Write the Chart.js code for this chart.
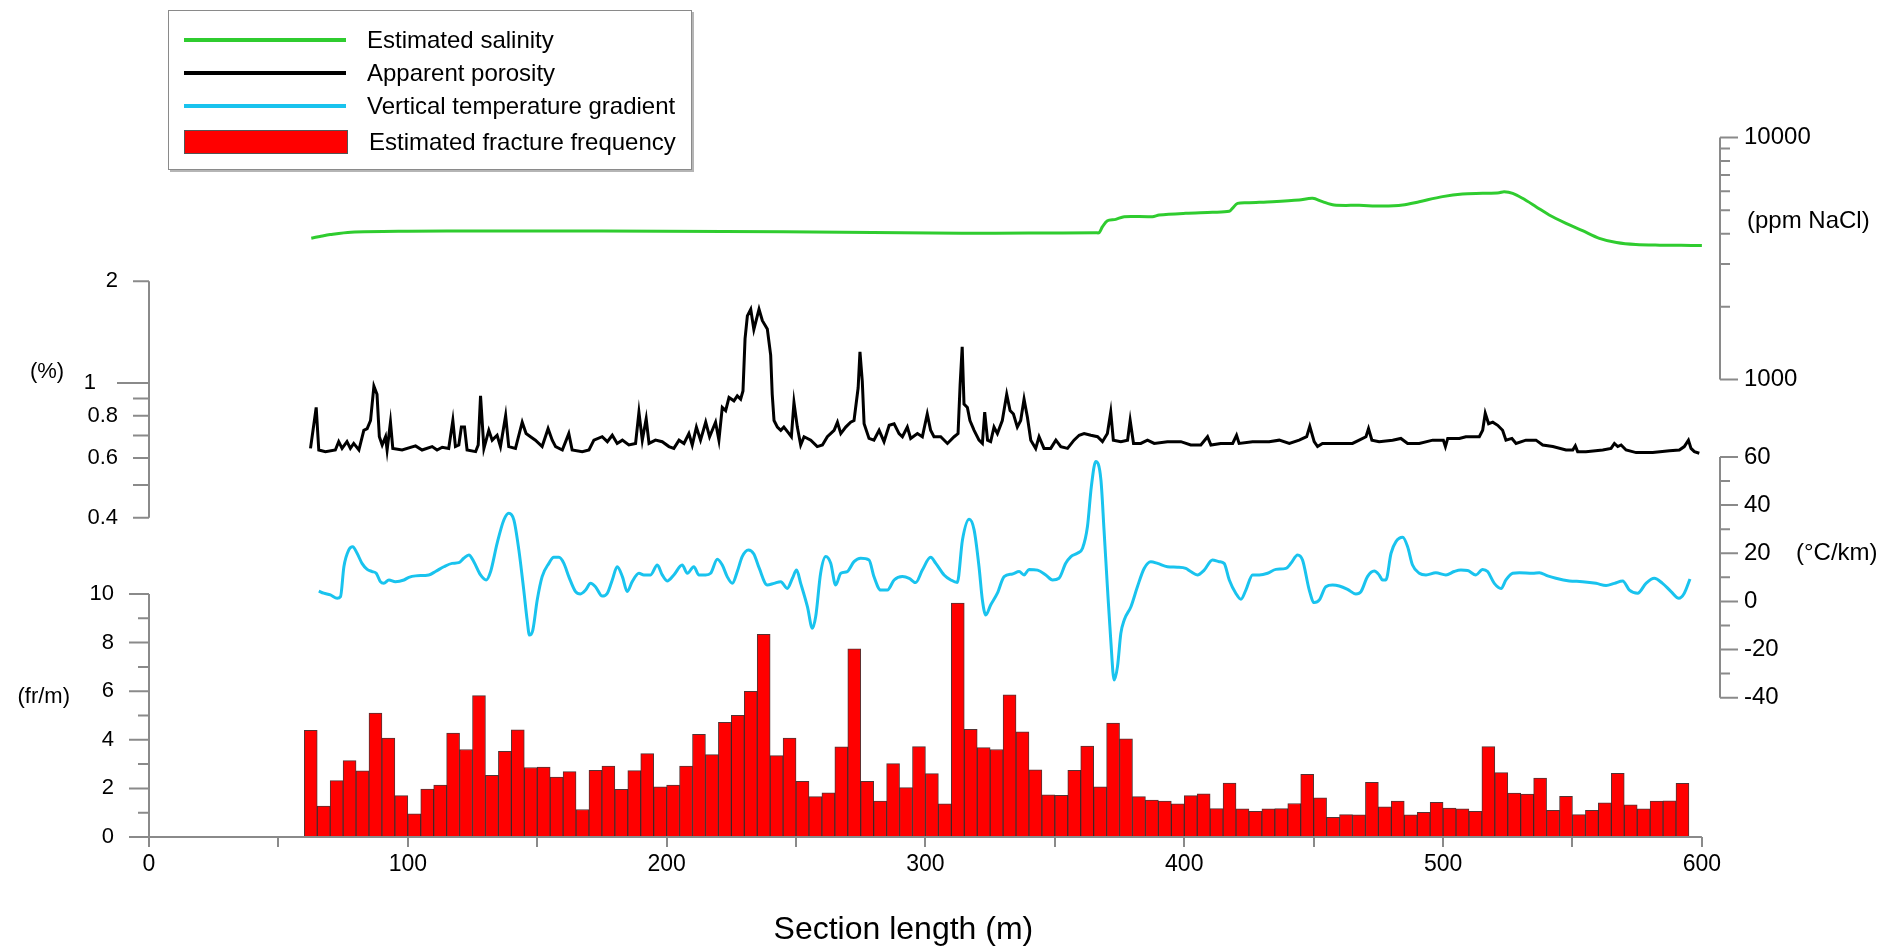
<!DOCTYPE html>
<html>
<head>
<meta charset="utf-8">
<title>Section profile</title>
<script src="https://cdn.jsdelivr.net/npm/chart.js@4.4.1/dist/chart.umd.min.js"></script>
<style>
  html, body { margin: 0; padding: 0; background: #fff; }
  #wrap { position: relative; width: 1886px; height: 949px; }
  #legend {
    position: absolute; left: 168px; top: 10px; width: 524px; height: 160px;
    border: 1px solid #8a8a8a; box-shadow: 2px 2px 0 #b5b5b5; background: #fff;
    box-sizing: border-box; padding-top: 12px;
    font: 24px 'Liberation Sans', Arial, sans-serif; color: #000;
  }
  #legend .item { display: flex; align-items: center; height: 33px; }
  #legend .item.bar { height: 40px; }
  #legend .swatch { display: inline-block; margin-left: 15px; width: 162px; height: 4px; }
  #legend .item.bar .swatch { width: 164px; height: 24px; box-sizing: border-box; border: 1px solid #555; }
  #legend .text { margin-left: 21px; white-space: nowrap; }
</style>
</head>
<body>
<div id="wrap">
  <canvas id="profile" width="1886" height="949"></canvas>
  <div id="legend"></div>
</div>
<script>
// ==========================================================
//  Section profile – salinity, porosity, gradient, fractures
// ==========================================================

// ---- Estimated salinity (ppm NaCl) ----
const salinityX = [62.7, 66, 70, 78, 100, 130, 175, 222, 268, 314,
  340, 366, 367.1, 368.4, 370.3, 373.5, 376.8, 387.7, 390.3, 400.6,
  410.9, 417.4, 418.6, 420.6, 425.1, 434.1, 444.4, 449.6, 453.4, 457.9,
  467.6, 476.6, 484.4, 490.8, 499.8, 507.5, 515.3, 521.7, 523.6, 526.9,
  530.7, 535.9, 541.0, 547.5, 553.9, 560.4, 567, 574.5, 583.8, 592, 600];
const salinityPpm = [3837, 3900, 3972, 4064, 4100, 4111, 4111, 4089, 4064, 4018,
  4030, 4040, 4045, 4280, 4532, 4590, 4709, 4709, 4783, 4860,
  4907, 4954, 5096, 5346, 5380, 5431, 5518, 5607, 5431, 5261,
  5244, 5212, 5261, 5431, 5697, 5843, 5880, 5917, 5973, 5880,
  5607, 5179, 4783, 4419, 4121, 3831, 3680, 3610, 3590, 3585, 3580];

// ---- Apparent porosity (%) ----
const porosityX = [62.4, 64.6, 65.6, 68.2, 72.0, 73.3, 74.6, 76.5, 77.8, 79.1,
  81.1, 83.0, 84.3, 85.6, 86.9, 88.1, 89.0, 90.1, 91.4, 92.0,
  93.3, 94.2, 97.8, 103.0, 105.5, 109.4, 111.3, 113.3, 115.8, 117.4,
  118.4, 119.7, 120.7, 121.9, 122.9, 126.2, 127.2, 128.1, 129.4, 131.3,
  132.6, 134.5, 135.8, 137.8, 139.0, 141.6, 144.2, 145.7, 147.4, 149.3,
  151.9, 154.2, 155.8, 157.1, 159.7, 162.2, 163.5, 167.4, 170.0, 171.9,
  175.1, 177.1, 179.0, 180.9, 182.9, 185.4, 188.0, 189.3, 190.6, 192.1,
  193.2, 195.7, 198.3, 200.9, 202.8, 204.8, 206.7, 208.6, 209.9, 211.5,
  213.1, 215.1, 216.6, 218.9, 220.2, 221.5, 222.8, 224.1, 226.0, 227.3,
  228.6, 229.5, 230.3, 231.2, 232.5, 233.7, 235.7, 237.0, 238.9, 240.2,
  240.8, 241.5, 242.8, 244.1, 245.3, 247.3, 248.2, 249.2, 250.5, 251.8,
  253.1, 255.7, 258.2, 260.2, 262.1, 264.7, 266.0, 267.3, 269.2, 271.1,
  272.4, 274.0, 274.7, 275.6, 276.3, 278.2, 280.1, 282.1, 284.0, 286.0,
  287.9, 289.8, 291.1, 293.0, 294.3, 296.9, 298.8, 300.7, 302.0, 303.3,
  305.9, 308.5, 311.1, 312.6, 313.4, 314.2, 314.9, 316.2, 317.2, 318.8,
  320.7, 322.0, 322.9, 324.0, 325.2, 326.5, 327.8, 329.7, 331.4, 332.7,
  334.0, 335.5, 336.8, 338.1, 339.4, 340.7, 342.6, 343.9, 345.8, 348.4,
  350.4, 352.3, 354.9, 357.4, 359.4, 361.3, 363.9, 366.5, 368.4, 370.3,
  371.6, 372.6, 375.5, 378.1, 379.1, 380.4, 383.2, 385.8, 388.4, 393.5,
  398.7, 402.5, 406.4, 409.0, 410.3, 414.1, 418.7, 420.2, 421.2, 426.4,
  432.8, 436.7, 440.6, 444.4, 447.3, 448.5, 450.2, 451.5, 453.4, 458.6,
  465.0, 467.6, 470.2, 471.2, 472.5, 475.3, 480.5, 483.7, 486.3, 490.8,
  496.0, 500.1, 500.9, 501.8, 506.3, 508.8, 514.0, 515.3, 516.3, 517.6,
  519.2, 521.1, 523.0, 524.3, 526.6, 528.2, 532.0, 535.9, 538.5, 542.4,
  547.5, 550.1, 551.1, 552.0, 555.2, 561.7, 564.9, 566.2, 567.5, 568.8,
  570.7, 574.6, 581.0, 587.5, 591.3, 593.2, 594.8, 595.8, 597.1, 599.0];
const porosityPct = [0.641, 0.847, 0.634, 0.627, 0.634, 0.671, 0.641, 0.671, 0.641, 0.663,
  0.634, 0.725, 0.733, 0.775, 0.979, 0.926, 0.694, 0.656, 0.694, 0.634,
  0.766, 0.641, 0.634, 0.652, 0.634, 0.649, 0.634, 0.646, 0.641, 0.775,
  0.649, 0.656, 0.741, 0.741, 0.634, 0.627, 0.656, 0.916, 0.641, 0.725,
  0.678, 0.701, 0.649, 0.801, 0.649, 0.641, 0.766, 0.709, 0.694, 0.678,
  0.649, 0.733, 0.678, 0.649, 0.634, 0.709, 0.634, 0.627, 0.634, 0.678,
  0.694, 0.671, 0.701, 0.663, 0.678, 0.656, 0.663, 0.820, 0.678, 0.784,
  0.663, 0.678, 0.671, 0.649, 0.641, 0.678, 0.663, 0.709, 0.656, 0.741,
  0.678, 0.766, 0.694, 0.766, 0.678, 0.847, 0.829, 0.906, 0.886, 0.916,
  0.896, 0.947, 1.352, 1.579, 1.652, 1.44, 1.652, 1.528, 1.445, 1.209,
  0.926, 0.775, 0.741, 0.725, 0.741, 0.709, 0.694, 0.876, 0.741, 0.656,
  0.694, 0.678, 0.649, 0.656, 0.694, 0.725, 0.766, 0.709, 0.741, 0.766,
  0.775, 0.968, 1.237, 1.012, 0.758, 0.686, 0.678, 0.725, 0.671, 0.750,
  0.758, 0.709, 0.694, 0.741, 0.686, 0.709, 0.694, 0.810, 0.725, 0.694,
  0.694, 0.663, 0.694, 0.709, 0.990, 1.279, 0.866, 0.847, 0.775, 0.725,
  0.678, 0.663, 0.820, 0.678, 0.671, 0.741, 0.709, 0.775, 0.926, 0.829,
  0.810, 0.741, 0.775, 0.896, 0.792, 0.678, 0.641, 0.694, 0.641, 0.641,
  0.678, 0.649, 0.641, 0.678, 0.701, 0.709, 0.701, 0.694, 0.671, 0.709,
  0.820, 0.678, 0.671, 0.678, 0.775, 0.663, 0.663, 0.678, 0.663, 0.671,
  0.671, 0.656, 0.656, 0.694, 0.656, 0.663, 0.663, 0.701, 0.663, 0.671,
  0.671, 0.678, 0.663, 0.678, 0.694, 0.745, 0.671, 0.649, 0.663, 0.663,
  0.663, 0.678, 0.694, 0.733, 0.678, 0.671, 0.678, 0.686, 0.663, 0.663,
  0.678, 0.678, 0.649, 0.686, 0.686, 0.694, 0.694, 0.725, 0.814, 0.758,
  0.766, 0.750, 0.725, 0.678, 0.686, 0.663, 0.678, 0.678, 0.656, 0.649,
  0.634, 0.634, 0.652, 0.627, 0.627, 0.634, 0.641, 0.663, 0.649, 0.656,
  0.634, 0.623, 0.623, 0.631, 0.634, 0.649, 0.678, 0.641, 0.627, 0.620];

// ---- Vertical temperature gradient (°C/km) ----
const gradientX = [65.6, 67.5, 70.1, 72.7, 74.0, 75.3, 77.2, 78.7, 80.4, 82.3,
  84.3, 86.2, 87.8, 89.4, 90.7, 92.7, 95.2, 98.5, 100.4, 103.0,
  108.1, 110.7, 113.9, 117.1, 119.7, 121.6, 123.6, 125.5, 128.1, 130.3,
  132.0, 134.5, 137.1, 139.0, 141.0, 142.9, 144.8, 146.1, 147.0, 148.3,
  150.0, 151.9, 154.5, 156.4, 158.4, 160.3, 162.2, 164.8, 166.7, 168.7,
  170.6, 172.5, 175.1, 177.1, 179.0, 180.9, 182.9, 184.8, 186.7, 189.3,
  191.2, 193.8, 196.4, 198.3, 200.2, 202.8, 206.0, 208.0, 210.5, 212.5,
  215.1, 217.0, 219.6, 221.5, 223.4, 225.4, 227.3, 229.2, 231.6, 233.7,
  235.7, 238.9, 241.5, 244.1, 246.6, 248.6, 250.2, 251.8, 254.4, 256.3,
  257.6, 259.5, 261.5, 263.4, 265.3, 267.3, 269.8, 272.4, 275.0, 278.2,
  280.1, 282.7, 285.3, 287.9, 291.1, 293.7, 296.2, 298.8, 302.0, 304.0,
  307.2, 309.8, 312.3, 314.3, 316.9, 318.8, 320.7, 322.0, 323.3, 325.2,
  327.8, 330.4, 333.6, 336.2, 338.1, 340.0, 343.3, 346.5, 349.1, 351.6,
  354.2, 356.2, 358.7, 360.7, 362.6, 364.1, 365.8, 367.8, 369.0, 370.3,
  371.6, 372.9, 374.2, 375.5, 376.8, 379.4, 381.9, 384.5, 387.1, 389.7,
  393.5, 397.4, 400.6, 402.5, 405.1, 407.7, 410.9, 413.5, 415.4, 417.4,
  419.9, 421.9, 423.8, 426.4, 429.0, 432.2, 435.4, 439.3, 441.2, 443.8,
  445.7, 448.3, 450.2, 452.2, 454.7, 457.3, 459.9, 463.1, 466.3, 468.3,
  470.8, 473.4, 475.3, 476.6, 477.9, 479.9, 481.8, 484.4, 486.3, 488.2,
  490.8, 493.4, 497.2, 501.1, 504.3, 506.9, 509.5, 512.7, 515.3, 517.2,
  519.8, 522.4, 524.3, 526.9, 529.5, 534.6, 537.2, 540.4, 543.6, 548.8,
  553.9, 559.1, 563.0, 566.2, 569.4, 572.0, 575.2, 578.4, 581.6, 584.8,
  588.1, 591.1, 593.2, 595.4];
const gradientCkm = [4.3, 3.4, 2.7, 1.3, 2.0, 14.4, 21.4, 22.7, 20.0, 15.8,
  13.3, 12.4, 11.7, 8.2, 7.5, 8.9, 8.2, 8.9, 10.0, 10.6,
  11.0, 12.4, 14.4, 15.8, 16.1, 17.9, 19.3, 16.5, 11.0, 8.9,
  12.4, 24.1, 33.8, 36.6, 33.8, 21.4, 4.7, -7.7, -14.0, -11.9,
  0.6, 10.3, 15.8, 18.3, 18.3, 15.8, 10.3, 4.1, 3.1, 4.7,
  7.5, 6.1, 2.2, 3.4, 8.9, 14.4, 10.3, 4.1, 8.2, 11.7,
  11.0, 11.0, 15.1, 11.0, 8.5, 11.0, 15.1, 11.7, 14.4, 11.0,
  11.0, 11.7, 17.5, 15.1, 10.3, 7.5, 12.4, 18.6, 21.4, 19.7,
  14.0, 6.8, 7.5, 8.2, 5.4, 9.6, 13.0, 7.5, -2.2, -11.2,
  -6.3, 11.7, 18.6, 15.8, 6.8, 11.7, 12.4, 16.5, 17.9, 17.2,
  10.3, 4.7, 4.7, 8.9, 10.3, 9.6, 7.8, 13.0, 18.3, 15.8,
  11.0, 8.9, 7.8, 25.5, 34.1, 29.7, 14.4, 0.6, -5.7, -1.5,
  3.4, 10.3, 11.4, 12.4, 11.0, 13.3, 13.0, 11.0, 8.9, 9.6,
  15.8, 18.6, 20.0, 22.1, 31.1, 47.7, 58.1, 50.5, 29.7, 6.1,
  -16.0, -32.7, -27.1, -13.3, -7.7, -2.2, 6.1, 13.7, 16.5, 15.8,
  14.4, 14.2, 13.7, 12.4, 11.0, 13.0, 17.2, 16.5, 15.8, 8.9,
  3.4, 0.9, 4.7, 11.0, 11.0, 11.7, 13.3, 13.7, 15.8, 19.3,
  17.2, 4.7, -0.5, 0.6, 6.1, 6.8, 6.4, 5.0, 3.1, 4.1,
  10.3, 12.6, 11.0, 8.9, 8.9, 20.0, 24.8, 26.6, 22.7, 15.1,
  11.7, 11.0, 11.9, 11.0, 12.4, 13.0, 12.8, 11.0, 13.3, 12.4,
  7.5, 5.4, 8.9, 11.7, 11.9, 11.7, 11.9, 10.6, 9.6, 8.5,
  8.2, 7.5, 6.6, 7.5, 8.5, 4.7, 3.4, 7.5, 9.6, 7.5,
  4.1, 1.3, 3.4, 9.3];

// ---- Estimated fracture frequency (fr/m), 5 m bins from 60 m ----
const FRACTURE_BIN_START = 60;
const FRACTURE_BIN_WIDTH = 5;
const fractureFreq = [4.39, 1.27, 2.32, 3.14, 2.72, 5.10, 4.07, 1.70, 0.95, 1.97,
  2.14, 4.28, 3.60, 5.82, 2.54, 3.53, 4.41, 2.86, 2.88, 2.47,
  2.69, 1.13, 2.74, 2.92, 1.96, 2.73, 3.43, 2.06, 2.14, 2.92,
  4.23, 3.39, 4.72, 5.01, 5.99, 8.34, 3.35, 4.07, 2.29, 1.66,
  1.82, 3.71, 7.74, 2.29, 1.48, 3.02, 2.03, 3.72, 2.61, 1.37,
  9.63, 4.43, 3.68, 3.60, 5.85, 4.33, 2.76, 1.74, 1.72, 2.74,
  3.74, 2.06, 4.69, 4.04, 1.66, 1.52, 1.48, 1.37, 1.70, 1.78,
  1.17, 2.22, 1.16, 1.06, 1.16, 1.17, 1.38, 2.58, 1.61, 0.81,
  0.92, 0.91, 2.25, 1.24, 1.48, 0.91, 1.02, 1.43, 1.19, 1.16,
  1.06, 3.72, 2.65, 1.81, 1.77, 2.43, 1.10, 1.67, 0.92, 1.10,
  1.41, 2.62, 1.32, 1.16, 1.48, 1.49, 2.21];

// ---- Axis ticks ----
const xTicks = [0, 50, 100, 150, 200, 250, 300, 350, 400, 450, 500, 550, 600];
const xLabels = [0, 100, 200, 300, 400, 500, 600];
const porosityTicks = [0.4, 0.5, 0.6, 0.7, 0.8, 0.9, 1, 2];
const porosityLabels = [0.4, 0.6, 0.8, 1, 2];
const porosityMajor = [1];
const fractureTicks = [0, 1, 2, 3, 4, 5, 6, 7, 8, 9, 10];
const fractureLabels = [0, 2, 4, 6, 8, 10];
const salinityTicks = [1000, 2000, 3000, 4000, 5000, 6000, 7000, 8000, 9000, 10000];
const salinityLabels = [1000, 10000];
const gradientTicks = [-40, -30, -20, -10, 0, 10, 20, 30, 40, 50, 60];
const gradientLabels = [-40, -20, 0, 20, 40, 60];

// ---- Style ----
const FONT = "'Liberation Sans', Arial, sans-serif";
const AXIS_COLOR = '#8a8a8a';
const LEFT_W = 149, RIGHT_W = 166, BOTTOM_H = 112;
const LONG_GAP = '\u2002\u2002';   // label sitting beside a long tick

Chart.defaults.font.family = FONT;
Chart.defaults.color = '#000';

function pts(xs, ys) { return xs.map((x, i) => ({ x, y: ys[i] })); }
function setTicks(values) { return scale => { scale.ticks = values.map(v => ({ value: v })); }; }
function labelIf(list, longList) {
  return v => {
    if (!list.includes(v)) return '';
    return longList && longList.includes(v) ? String(v) + LONG_GAP : String(v);
  };
}

function yAxis(side, type, min, max, ticks, labels, opts) {
  return {
    type, position: side, stack: side, stackWeight: opts.stackWeight, weight: opts.weight, min, max,
    afterBuildTicks: setTicks(ticks),
    afterFit: s => { s.width = side === 'left' ? LEFT_W : RIGHT_W; },
    grid: { display: false },
    border: { display: false },
    ticks: {
      autoSkip: false, padding: opts.padding,
      font: { size: opts.fontSize }, callback: labelIf(labels, opts.longLabels)
    }
  };
}

// axis lines and tick marks only span the band of each variable
const axisBands = [
  { id: 'yPor', ticks: porosityTicks, major: porosityMajor, long: 32, short: 16 },
  { id: 'yFrac', ticks: fractureTicks, major: fractureLabels, long: 20, short: 11 },
  { id: 'ySal', ticks: salinityTicks, major: salinityLabels, long: 18, short: 10 },
  { id: 'yTemp', ticks: gradientTicks, major: gradientLabels, long: 18, short: 10 }
];
const unitLabels = [
  { id: 'yPor', text: '(%)', value: 1.08, dx: -102, align: 'center', size: 22 },
  { id: 'yFrac', text: '(fr/m)', value: 5.75, dx: -79, align: 'right', size: 22 },
  { id: 'ySal', text: '(ppm NaCl)', value: 4500, dx: 27, align: 'left', size: 24 },
  { id: 'yTemp', text: '(°C/km)', value: 20, dx: 76, align: 'left', size: 24 }
];

const axisDecor = {
  id: 'axisDecor',
  afterDraw(chart) {
    const { ctx, chartArea, scales } = chart;
    ctx.save();
    ctx.strokeStyle = AXIS_COLOR;
    ctx.lineWidth = 2;
    ctx.beginPath();
    ctx.moveTo(scales.x.getPixelForValue(xTicks[0]), chartArea.bottom);
    ctx.lineTo(scales.x.getPixelForValue(xTicks[xTicks.length - 1]), chartArea.bottom);
    axisBands.forEach(b => {
      const s = scales[b.id];
      const left = s.position === 'left';
      const x = left ? s.right : s.left;
      const dir = left ? -1 : 1;
      ctx.moveTo(x, s.getPixelForValue(b.ticks[0]));
      ctx.lineTo(x, s.getPixelForValue(b.ticks[b.ticks.length - 1]));
      b.ticks.forEach(t => {
        const y = s.getPixelForValue(t);
        ctx.moveTo(x, y);
        ctx.lineTo(x + dir * (b.major.includes(t) ? b.long : b.short), y);
      });
    });
    ctx.stroke();

    ctx.fillStyle = '#000';
    ctx.textBaseline = 'middle';
    unitLabels.forEach(u => {
      const s = scales[u.id];
      const x = s.position === 'left' ? s.right : s.left;
      ctx.font = `${u.size}px ${FONT}`;
      ctx.textAlign = u.align;
      ctx.fillText(u.text, x + u.dx, s.getPixelForValue(u.value));
    });
    ctx.restore();
  }
};

const chart = new Chart(document.getElementById('profile'), {
  type: 'line',
  data: {
    datasets: [
      {
        label: 'Estimated salinity',
        data: pts(salinityX, salinityPpm),
        yAxisID: 'ySal',
        borderColor: '#2fcc2f', borderWidth: 3,
        pointRadius: 0, tension: 0.3, order: 1
      },
      {
        label: 'Apparent porosity',
        data: pts(porosityX, porosityPct),
        yAxisID: 'yPor',
        borderColor: '#000', borderWidth: 3,
        pointRadius: 0, tension: 0, order: 1
      },
      {
        label: 'Vertical temperature gradient',
        data: pts(gradientX, gradientCkm),
        yAxisID: 'yTemp',
        borderColor: '#19c3ee', borderWidth: 3,
        pointRadius: 0, cubicInterpolationMode: 'monotone', order: 1
      },
      {
        type: 'bar',
        label: 'Estimated fracture frequency',
        data: fractureFreq.map((v, i) => ({ x: FRACTURE_BIN_START + FRACTURE_BIN_WIDTH * (i + 0.5), y: v })),
        yAxisID: 'yFrac',
        backgroundColor: '#ff0000', borderColor: 'rgba(40,0,0,0.8)', borderWidth: 1,
        barPercentage: 1, categoryPercentage: 1, order: 5
      }
    ]
  },
  options: {
    responsive: false,
    animation: false,
    layout: { padding: { top: 100 } },
    plugins: { legend: { display: false }, tooltip: { enabled: false } },
    scales: {
      x: {
        type: 'linear', min: 0, max: 607, offset: false,
        afterBuildTicks: setTicks(xTicks),
        afterFit: s => { s.height = BOTTOM_H; },
        grid: { offset: false, drawOnChartArea: false, drawTicks: true, tickLength: 10, color: AXIS_COLOR, lineWidth: 2 },
        border: { display: false },
        ticks: { autoSkip: false, maxRotation: 0, padding: 4, font: { size: 23 }, callback: labelIf(xLabels) },
        title: { display: true, text: 'Section length (m)       ', font: { size: 32 }, padding: 0 }
      },
      yPor: yAxis('left', 'logarithmic', 0.3184, 6.859, porosityTicks, porosityLabels,
        { weight: 2, stackWeight: 460, padding: 23, fontSize: 22, longLabels: porosityMajor }),
      yFrac: yAxis('left', 'linear', 0, 11.4, fractureTicks, fractureLabels,
        { weight: 1, stackWeight: 277, padding: 27, fontSize: 22 }),
      ySal: yAxis('right', 'logarithmic', 693.3, 14290, salinityTicks, salinityLabels,
        { weight: 1, stackWeight: 318, padding: 16, fontSize: 24 }),
      yTemp: yAxis('right', 'linear', -97.9, 76.2, gradientTicks, gradientLabels,
        { weight: 2, stackWeight: 419, padding: 16, fontSize: 24 })
    }
  },
  plugins: [axisDecor]
});

// ---- Legend (boxed, top left) ----
function buildLegend(c) {
  const box = document.getElementById('legend');
  c.data.datasets.forEach(ds => {
    const isBar = ds.type === 'bar';
    const row = document.createElement('div');
    row.className = 'item' + (isBar ? ' bar' : '');
    const sw = document.createElement('span');
    sw.className = 'swatch';
    sw.style.background = isBar ? ds.backgroundColor : ds.borderColor;
    const txt = document.createElement('span');
    txt.className = 'text';
    txt.textContent = ds.label;
    row.append(sw, txt);
    box.appendChild(row);
  });
}
buildLegend(chart);
</script>
</body>
</html>
